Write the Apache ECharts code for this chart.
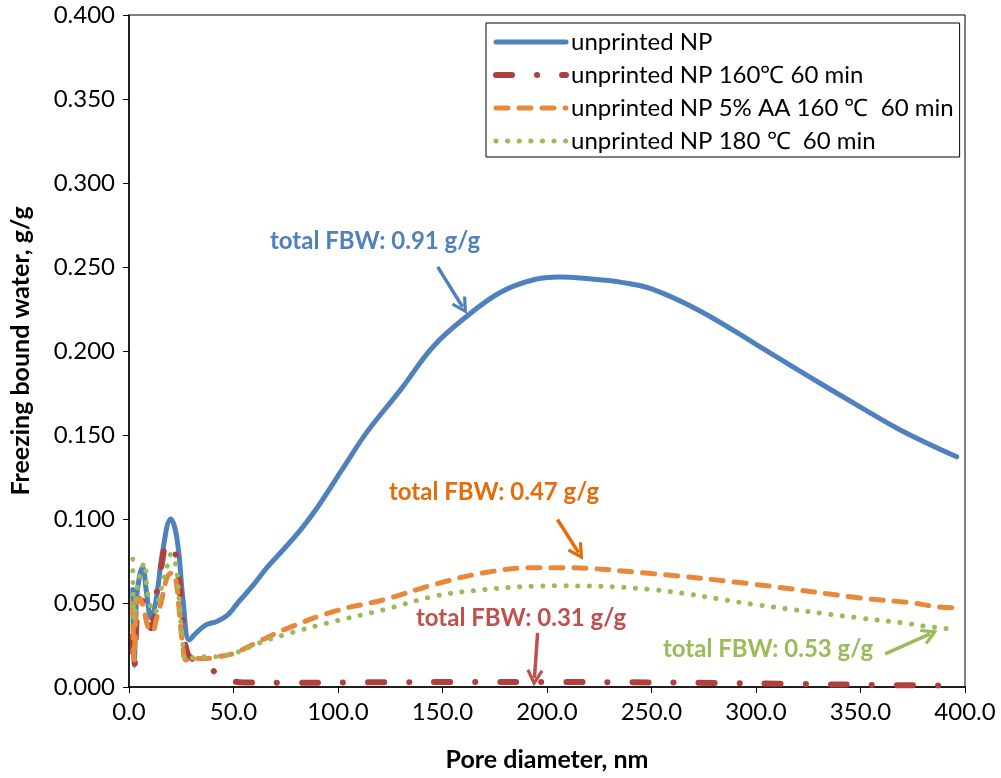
<!DOCTYPE html>
<html>
<head>
<meta charset="utf-8">
<script src="https://cdn.jsdelivr.net/npm/echarts@6/dist/echarts.min.js"></script>
<style>
  html, body { margin: 0; padding: 0; background: #fff; }
  #chart { width: 1001px; height: 778px; }
</style>
</head>
<body>
<div id="chart"></div>
<script>
// Pore diameter (nm) and freezing bound water (g/g) for each sample
const npX = [1.8, 2.5, 3.5, 5.0, 6.5, 8.5, 10.5, 13, 16, 20, 23, 26, 28.8, 32, 36.8, 42, 47.3, 52, 59, 66.4, 74, 82.2, 90.2, 102.8, 114, 130, 145.8, 162, 177.8, 193.6, 206, 220, 235, 250, 273, 300, 321, 350, 369, 396];
const npY = [0.058, 0.013, 0.050, 0.066, 0.071, 0.055, 0.041, 0.052, 0.080, 0.100, 0.088, 0.050, 0.028, 0.032, 0.037, 0.039, 0.043, 0.050, 0.060, 0.0716, 0.082, 0.0937, 0.107, 0.131, 0.152, 0.177, 0.203, 0.221, 0.235, 0.2424, 0.244, 0.243, 0.241, 0.237, 0.224, 0.204, 0.188, 0.1666, 0.153, 0.137];

const np160X = [1.8, 2.5, 4, 6, 8, 10.5, 13.7, 15.3, 18.5, 21.7, 24, 25.6, 28, 33, 38.2, 44, 55, 80, 120, 160, 200, 240, 280, 320, 360, 396];
const np160Y = [0.030, 0.010, 0.045, 0.052, 0.042, 0.035, 0.060, 0.071, 0.086, 0.082, 0.062, 0.042, 0.020, 0.015, 0.012, 0.006, 0.0027, 0.0025, 0.0028, 0.003, 0.003, 0.0028, 0.0024, 0.0018, 0.0012, 0.0008];

const npAAX = [1.8, 2.5, 3.5, 5.0, 7.0, 9.0, 11.3, 13, 15.3, 18.5, 20.9, 22.5, 24, 25.6, 27.5, 31.2, 37, 42.5, 50, 62, 74, 98, 122, 146, 170, 194, 206, 250, 300, 350, 375, 385, 397];
const npAAY = [0.050, 0.016, 0.045, 0.053, 0.047, 0.036, 0.033, 0.040, 0.050, 0.066, 0.068, 0.063, 0.046, 0.026, 0.016, 0.017, 0.017, 0.018, 0.020, 0.027, 0.034, 0.045, 0.052, 0.061, 0.068, 0.071, 0.071, 0.0675, 0.061, 0.053, 0.050, 0.048, 0.047];

const np180X = [1.8, 2.5, 3.5, 5.5, 7.3, 9.0, 12.1, 15.3, 18.5, 20.1, 22.5, 24, 25.6, 27.5, 32.8, 40, 50, 62, 74, 98, 122, 146, 170, 194, 206, 250, 300, 350, 371, 382, 394];
const np180Y = [0.076, 0.040, 0.055, 0.068, 0.074, 0.055, 0.044, 0.058, 0.073, 0.079, 0.072, 0.052, 0.028, 0.016, 0.018, 0.018, 0.020, 0.026, 0.031, 0.039, 0.046, 0.054, 0.058, 0.060, 0.0602, 0.058, 0.049, 0.041, 0.038, 0.036, 0.0344];

const seriesNames = ['unprinted NP', 'unprinted NP 160℃ 60 min', 'unprinted NP 5% AA 160 ℃  60 min', 'unprinted NP 180 ℃  60 min'];
const xTicks = [0, 50, 100, 150, 200, 250, 300, 350, 400];
const yTicks = [0, 0.05, 0.1, 0.15, 0.2, 0.25, 0.3, 0.35, 0.4];

// Total freezing bound water notes: text and arrow [from, to] in data units
const notes = [
  { text: 'total FBW: 0.91 g/g', color: '#4F81BD', from: [147.7, 0.2501], to: [159.6, 0.2263] },
  { text: 'total FBW: 0.47 g/g', color: '#E46C0A', from: [205.0, 0.0997], to: [215.1, 0.0800] },
  { text: 'total FBW: 0.31 g/g', color: '#C0504D', from: [195.5, 0.0322], to: [194.0, 0.0054] },
  { text: 'total FBW: 0.53 g/g', color: '#9BBB59', from: [361.8, 0.0197], to: [383.3, 0.0316] }
];
const notePos = [[375, 241], [494, 492], [521, 618], [768, 649]];

const pairs = (xs, ys) => xs.map((x, i) => [x, ys[i]]);
const FONT = 'Lato, "Open Sans", sans-serif';
const chevron = 'path://M6,0 L12,10.6 L10.1,11.8 L6,4.6 L1.9,11.8 L0,10.6 Z';

const chart = echarts.init(document.getElementById('chart'), null, { renderer: 'canvas' });

const styles = [
  { color: '#4F81BD', width: 5, type: 'solid' },
  { color: '#B0403D', width: 6, type: [16, 25, 0.1, 25] },
  { color: '#E8883A', width: 5, type: [12, 11] },
  { color: '#9BBB59', width: 5, type: [0.1, 11.5] }
];
const datasets = [pairs(npX, npY), pairs(np160X, np160Y), pairs(npAAX, npAAY), pairs(np180X, np180Y)];

const lineSeries = styles.map((s, i) => ({
  name: seriesNames[i],
  type: 'line',
  data: datasets[i],
  smooth: 0.4,
  showSymbol: false,
  symbol: 'none',
  color: s.color,
  lineStyle: { color: s.color, width: s.width, type: s.type, cap: 'round', join: 'round' },
  emphasis: { disabled: true },
  animation: false
}));

// arrows drawn on top of the curves
lineSeries.push({
  name: 'notes',
  type: 'line',
  data: [],
  silent: true,
  animation: false,
  z: 5,
  markLine: {
    silent: true,
    animation: false,
    symbol: ['none', chevron],
    symbolSize: [17, 17],
    label: { show: false },
    emphasis: { disabled: true },
    data: notes.map(n => [
      { coord: n.from, lineStyle: { color: n.color, width: 3.5, type: 'solid', opacity: 1 }, itemStyle: { color: n.color }, symbol: 'none' },
      { coord: n.to, symbol: chevron }
    ])
  }
});

chart.setOption({
  backgroundColor: '#ffffff',
  animation: false,
  grid: { left: 128, right: 36, top: 15, bottom: 91, show: true, borderColor: '#000', borderWidth: 1, backgroundColor: 'transparent' },
  legend: {
    data: seriesNames.map((name, i) => ({
      name,
      itemStyle: { opacity: 0 },
      lineStyle: { color: styles[i].color, width: styles[i].width, type: styles[i].type, cap: 'round', opacity: 1 }
    })),
    orient: 'vertical',
    left: 486,
    top: 23,
    padding: [7, 6, 4, 7],
    itemWidth: 70,
    itemHeight: 14,
    itemGap: 9,
    backgroundColor: '#fff',
    borderColor: '#000',
    borderWidth: 1,
    borderRadius: 0,
    selectedMode: false,
    textStyle: { fontFamily: FONT, fontSize: 24, color: '#000', lineHeight: 21 }
  },
  xAxis: {
    type: 'value',
    min: 0, max: 400, interval: 50,
    name: 'Pore diameter, nm',
    nameLocation: 'middle',
    nameGap: 60,
    nameTextStyle: { fontFamily: FONT, fontSize: 25, fontWeight: 'bold', color: '#000' },
    axisLine: { onZero: false, lineStyle: { color: '#000', width: 1.5 } },
    axisTick: { show: true, inside: false, length: 6, lineStyle: { color: '#000', width: 1 } },
    axisLabel: { margin: 13, fontFamily: FONT, fontSize: 24, color: '#000', formatter: v => xTicks.includes(v) ? v.toFixed(1) : '' },
    splitLine: { show: false }
  },
  yAxis: {
    type: 'value',
    min: 0, max: 0.4, interval: 0.05,
    name: 'Freezing bound water, g/g',
    nameLocation: 'middle',
    nameGap: 96,
    nameTextStyle: { fontFamily: FONT, fontSize: 25, fontWeight: 'bold', color: '#000' },
    axisLine: { onZero: false, lineStyle: { color: '#000', width: 1.5 } },
    axisTick: { show: true, inside: false, length: 6, lineStyle: { color: '#000', width: 1 } },
    axisLabel: { margin: 14, fontFamily: FONT, fontSize: 24, color: '#000', formatter: v => yTicks.some(t => Math.abs(t - v) < 1e-9) ? v.toFixed(3) : '' },
    splitLine: { show: false }
  },
  series: lineSeries,
  graphic: notes.map((n, i) => ({
    type: 'text',
    silent: true,
    x: notePos[i][0],
    y: notePos[i][1],
    style: { text: n.text, fill: n.color, font: 'bold 24px ' + FONT, align: 'center', verticalAlign: 'middle' }
  }))
});
</script>
</body>
</html>
